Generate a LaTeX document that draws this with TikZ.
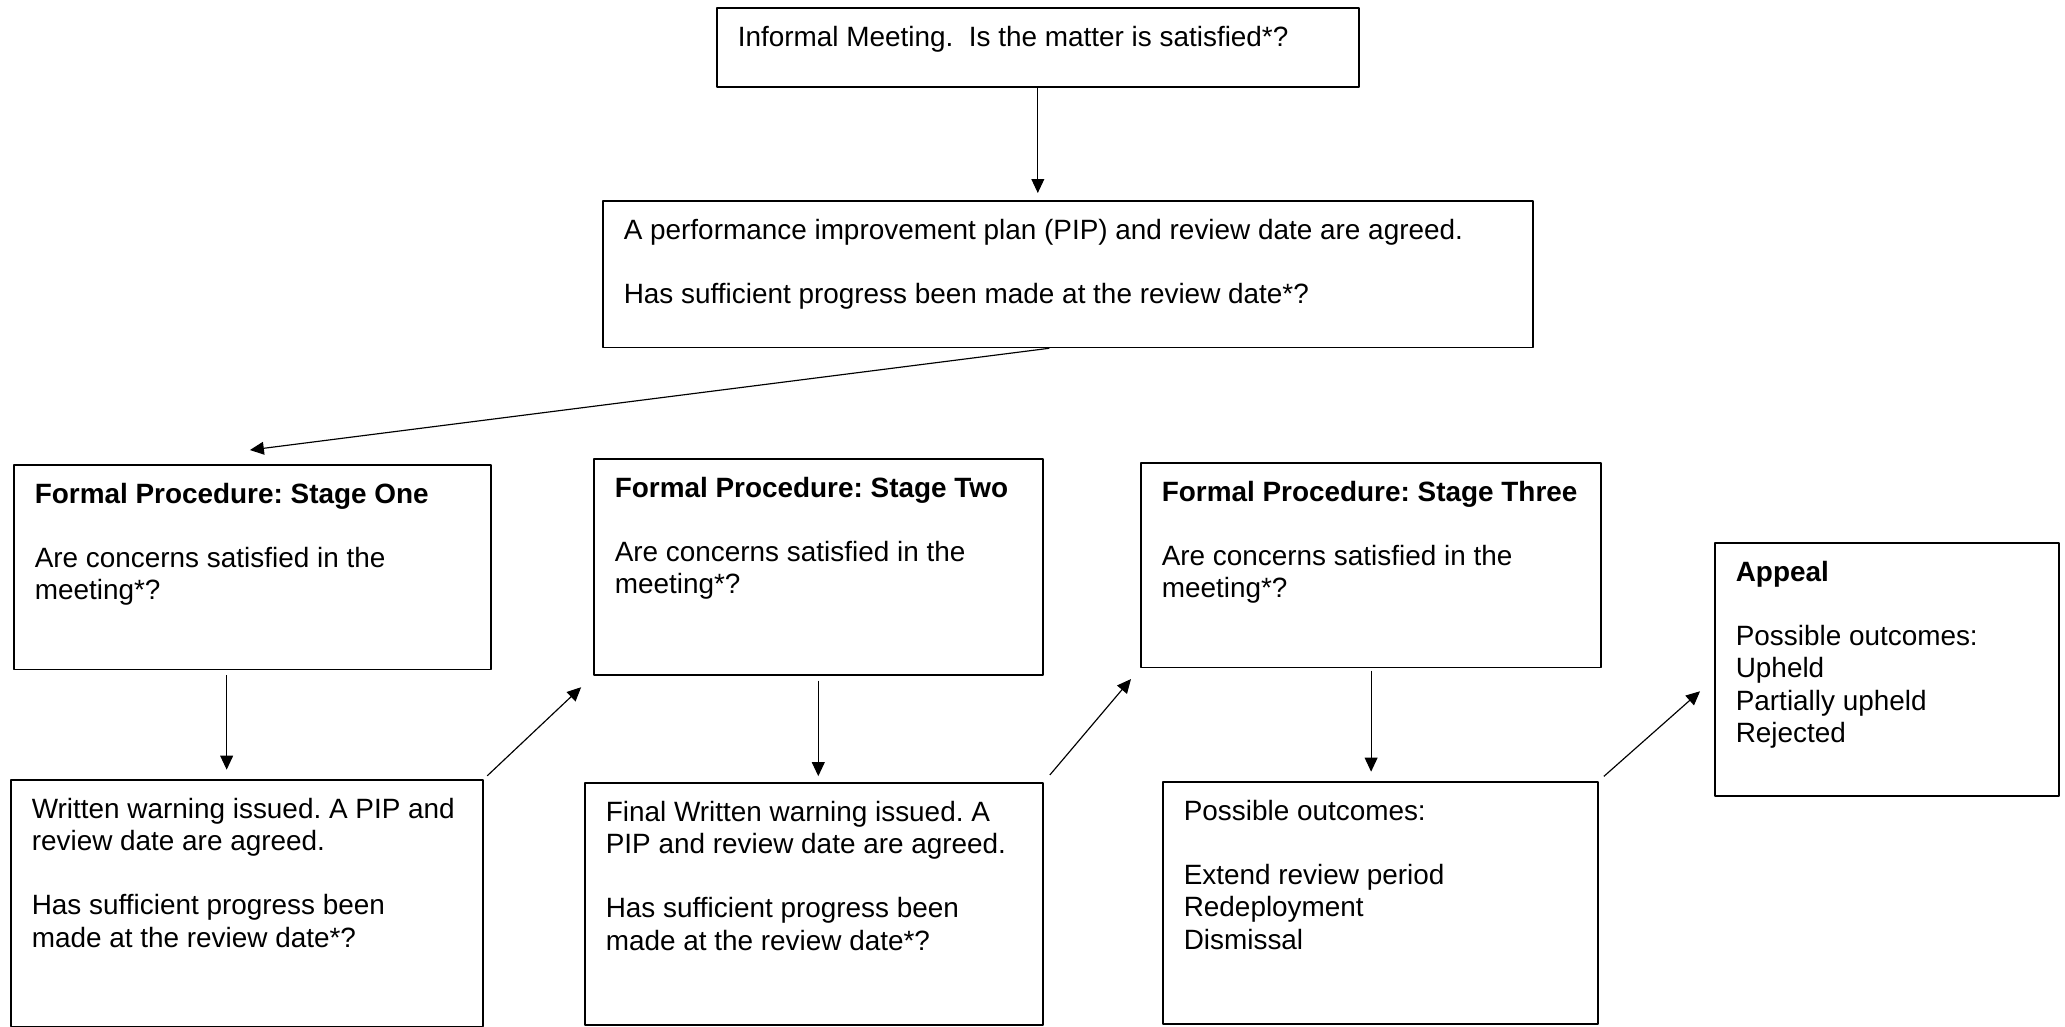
\documentclass[tikz,border=0pt]{standalone}
\usepackage{fontspec}
\setmainfont{Liberation Sans}
\frenchspacing
\usetikzlibrary{arrows.meta}
\begin{document}
\begin{tikzpicture}[x=0.43pt,y=-0.43pt,line join=round,
	card/.style={draw,line width=0.75pt,anchor=north west,inner xsep=9pt,inner ysep=8pt,font=\fontsize{12pt}{13.8pt}\selectfont},
	arr/.style={-{Triangle[length=6pt,width=5.5pt]},line width=0.5pt}]
	\useasboundingbox (0,0) rectangle (2065,1027);
	% top row
	\node[card] (informal) at (716,7) {\begin{minipage}[t][18pt][t]{258pt}Informal Meeting.\ \ Is the matter is satisfied*?\end{minipage}};
	\node[card] (pip) at (602,200) {\begin{minipage}[t][47pt][t]{382pt}A performance improvement plan (PIP) and review date are agreed.\\[13.8pt]Has sufficient progress been made at the review date*?\end{minipage}};
	% stages
	\node[card] (s1) at (13,464) {\begin{minipage}[t][72pt][t]{187pt}\textbf{Formal Procedure: Stage One}\\[13.8pt]Are concerns satisfied in the\\meeting*?\end{minipage}};
	\node[card] (s2) at (593,458) {\begin{minipage}[t][77pt][t]{175pt}\textbf{Formal Procedure: Stage Two}\\[13.8pt]Are concerns satisfied in the\\meeting*?\end{minipage}};
	\node[card] (s3) at (1140,462) {\begin{minipage}[t][72pt][t]{180pt}\textbf{Formal Procedure: Stage Three}\\[13.8pt]Are concerns satisfied in the\\meeting*?\end{minipage}};
	\node[card] (appeal) at (1714,542) {\begin{minipage}[t][93pt][t]{130pt}\textbf{Appeal}\\[13.8pt]Possible outcomes:\\Upheld\\Partially upheld\\Rejected\end{minipage}};
	% outcomes
	\node[card] (ww) at (10,779) {\begin{minipage}[t][90pt][t]{185pt}Written warning issued. A PIP and\\review date are agreed.\\[13.8pt]Has sufficient progress been\\made at the review date*?\end{minipage}};
	\node[card] (fw) at (584,782) {\begin{minipage}[t][88pt][t]{179pt}Final Written warning issued. A\\PIP and review date are agreed.\\[13.8pt]Has sufficient progress been\\made at the review date*?\end{minipage}};
	\node[card] (po) at (1162,781) {\begin{minipage}[t][88pt][t]{169pt}Possible outcomes:\\[13.8pt]Extend review period\\Redeployment\\Dismissal\end{minipage}};
	% arrows
	\draw[arr,shorten >=3pt] (informal.south) -- (informal.south |- pip.north);
	\draw[arr] ([xshift=-8pt]pip.south) -- ([xshift=-1pt,yshift=6pt]s1.north);
	\draw[arr,shorten <=2pt,shorten >=4pt] ([xshift=-11pt]s1.south) -- ([xshift=-11pt]s1.south |- ww.north);
	\draw[arr,shorten <=2pt,shorten >=7pt] (ww.north east) -- (s2.south west);
	\draw[arr,shorten <=2pt,shorten >=2.5pt] (s2.south) -- (s2.south |- fw.north);
	\draw[arr,shorten <=4pt,shorten >=6pt] (fw.north east) -- (s3.south west);
	\draw[arr,shorten <=1pt,shorten >=4pt] (s3.south) -- (s3.south |- po.north);
	\draw[arr,shorten <=3pt,shorten >=8pt] (po.north east) -- ([yshift=-4pt]appeal.west);
\end{tikzpicture}
\end{document}
